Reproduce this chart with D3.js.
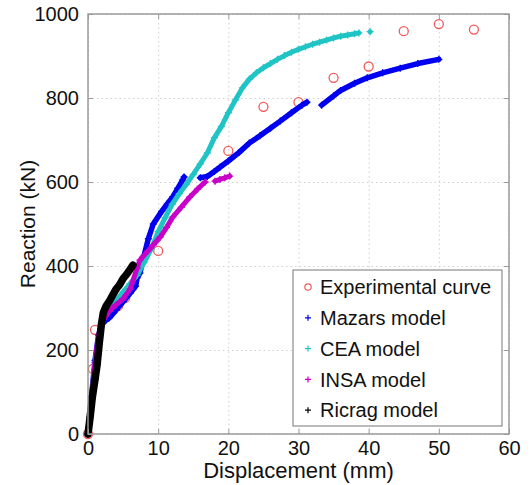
<!DOCTYPE html>
<html>
<head>
<meta charset="utf-8">
<script src="https://cdn.jsdelivr.net/npm/d3@7"></script>
<style>
  body { margin: 0; background: #fff; }
  svg text { font-family: "Liberation Sans", Arial, sans-serif; fill: #111; }
  .grid line { stroke: #d0d0d0; stroke-dasharray: 1.5,3; }
  .grid path { display: none; }
</style>
</head>
<body>
<svg id="chart" width="532" height="485"></svg>
<script>
// values: [displacement mm, reaction kN]
const experimental = [[0,0],[0.7,155],[1,248],[4.3,305],[5.3,324],[10,436],[20,674],[25,779],[30,790],[35,848],[40,875],[45,959],[50,976],[55,963]];

const mazars = [
  [[0,0],[0.5,90],[1,175],[1.5,235],[2,262],[2.5,270],[3,276],[4,295],[5,315],[6,335],[6.8,352],[7,372],[7.4,383],[8,425],[8.6,465],[9.3,500],[10.5,530],[11.3,548],[12.1,565],[12.8,585],[13.5,605],[13.7,612]],
  [[16,610],[17,613],[18,625],[18.8,635],[20,650],[21.5,670],[23,693],[24.5,710],[26,728],[27.4,745],[29,765],[30.5,783],[31.2,790]],
  [[33.3,783],[35,805],[36,818],[38,835],[39.8,848],[42,860],[44.5,871],[47,882],[50,892]]
];

const cea = [
  [[0,0],[1,170],[2,268],[3,298],[4,318],[5,338],[6,358],[7,378],[8,408],[9,440],[10,482],[11,515],[12,547],[13,572],[14,594],[15,618],[16,643],[17,669],[18,705],[19,732],[20,765],[21,795],[22,824],[23,845],[24,860],[25,872],[26,882],[27,892],[28,901],[29,909],[30,916],[31,922],[32,928],[33,933],[34,938],[35,943],[36,947],[37,950],[38,953],[38.6,955]],
  [[40.2,958]]
];

const insa = [
  [[0,0],[0.5,85],[1,170],[1.5,235],[2,265],[2.5,280],[3,292],[4,308],[5,322],[6,345],[7,395],[7.4,414],[8.5,435],[9.3,450],[10.3,469],[11.2,492],[12.1,517],[13.3,540],[14.5,564],[15.6,583],[16.7,600]],
  [[18.1,602],[18.8,606],[19.5,610],[20.2,614]]
];

const ricrag = [
  [[0,0],[0.3,40],[0.6,85],[1,130],[1.3,165],[1.6,215],[1.9,260],[2.2,290],[2.6,305],[3,315],[3.5,330],[4,345],[4.5,355],[5,370],[5.5,380],[6,392],[6.4,402]]
];

const xTicks = [0,10,20,30,40,50,60];
const yTicks = [0,200,400,600,800,1000];
const legendNames = ["Experimental curve","Mazars model","CEA model","INSA model","Ricrag model"];
const colors = {exp:"#f05a5a", mazars:"#0000f0", cea:"#20c4c4", insa:"#c800c8", ricrag:"#000000"};

const svg = d3.select("#chart");
const margin = {left:88, right:23, top:14, bottom:51};
const W = 532, H = 485;

const x = d3.scaleLinear().domain([0,60]).range([margin.left, W - margin.right]);
const y = d3.scaleLinear().domain([0,1000]).range([H - margin.bottom, margin.top]);

// grid
svg.append("g").attr("class","grid")
  .attr("transform",`translate(0,${H - margin.bottom})`)
  .call(d3.axisBottom(x).tickValues(xTicks).tickSize(-(H - margin.top - margin.bottom)).tickFormat(""));
svg.append("g").attr("class","grid")
  .attr("transform",`translate(${margin.left},0)`)
  .call(d3.axisLeft(y).tickValues(yTicks).tickSize(-(W - margin.left - margin.right)).tickFormat(""));

// series
const line = d3.line().x(d => x(d[0])).y(d => y(d[1]));

const drawModel = (segments, color, width) => {
  let g = svg.append("g");
  segments.forEach(seg => {
    g.append("path").datum(seg)
      .attr("d", line)
      .style("fill","none")
      .style("stroke",color)
      .style("stroke-width",width)
      .style("stroke-linecap","round")
      .style("stroke-linejoin","round");
    g.selectAll(null).data(seg).enter().append("path")
      .attr("transform", d => `translate(${x(d[0])},${y(d[1])})`)
      .attr("d","M-3.5,0H3.5M0,-3.5V3.5")
      .style("stroke",color)
      .style("stroke-width",1.4);
  });
};

svg.append("g").selectAll("circle").data(experimental).enter().append("circle")
  .attr("cx", d => x(d[0])).attr("cy", d => y(d[1])).attr("r",4.5)
  .style("fill","none").style("stroke",colors.exp).style("stroke-width",1.3);

drawModel(mazars, colors.mazars, 5.5);
drawModel(cea, colors.cea, 5);
drawModel(insa, colors.insa, 5);
drawModel(ricrag, colors.ricrag, 7.5);

// box and ticks
svg.append("rect")
  .attr("x", margin.left).attr("y", margin.top)
  .attr("width", W - margin.left - margin.right).attr("height", H - margin.top - margin.bottom)
  .style("fill","none").style("stroke","#9a9a9a").style("stroke-width",1.5);

const axStyle = g => {
  g.select(".domain").remove();
  g.selectAll(".tick line").style("stroke","#9a9a9a");
  g.selectAll(".tick text").style("font-size","20px").style("fill","#111");
};
svg.append("g").attr("transform",`translate(0,${H - margin.bottom})`)
  .call(d3.axisBottom(x).tickValues(xTicks).tickSizeInner(-5).tickPadding(7).tickFormat(d3.format("d")))
  .call(axStyle);
svg.append("g").attr("transform",`translate(0,${margin.top})`)
  .call(d3.axisTop(x).tickValues(xTicks).tickSizeInner(-5).tickFormat(""))
  .call(axStyle);
svg.append("g").attr("transform",`translate(${margin.left},0)`)
  .call(d3.axisLeft(y).tickValues(yTicks).tickSizeInner(-5).tickPadding(9).tickFormat(d3.format("d")))
  .call(axStyle);
svg.append("g").attr("transform",`translate(${W - margin.right},0)`)
  .call(d3.axisRight(y).tickValues(yTicks).tickSizeInner(-5).tickFormat(""))
  .call(axStyle);

// axis titles
svg.append("text")
  .attr("x", (margin.left + W - margin.right) / 2).attr("y", 478)
  .style("text-anchor","middle").style("font-size","22px")
  .text("Displacement (mm)");
svg.append("text")
  .attr("transform","rotate(-90)")
  .attr("x", -(margin.top + H - margin.bottom) / 2).attr("y", 35)
  .style("text-anchor","middle").style("font-size","21px")
  .text("Reaction (kN)");

// legend
const lg = svg.append("g").attr("transform","translate(293,270)");
lg.append("rect").attr("width",209).attr("height",156)
  .style("fill","#fff").style("stroke","#777").style("stroke-width",1);
const legendColors = [colors.exp, colors.mazars, colors.cea, colors.insa, colors.ricrag];
legendNames.forEach((name, i) => {
  let yy = 17 + i * 30.8;
  if (i === 0) {
    lg.append("circle").attr("cx",15).attr("cy",yy).attr("r",3.2)
      .style("fill","none").style("stroke",legendColors[i]).style("stroke-width",1.2);
  } else {
    lg.append("path").attr("transform",`translate(15,${yy})`)
      .attr("d","M-3,0H3M0,-3V3")
      .style("stroke",legendColors[i]).style("stroke-width",1.2);
  }
  lg.append("text").attr("x",27).attr("y",yy).attr("dy","0.36em")
    .style("font-size","20px").text(name);
});
</script>
</body>
</html>
